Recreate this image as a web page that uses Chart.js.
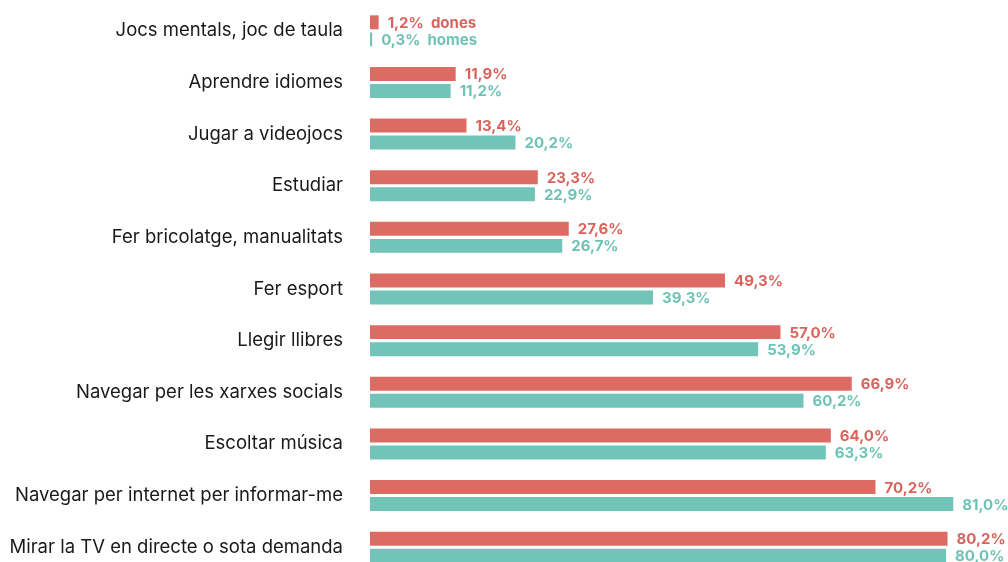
<!DOCTYPE html>
<html>
<head>
<meta charset="utf-8">
<script src="https://cdn.jsdelivr.net/npm/chart.js@4"></script>
<style>
  html, body { margin: 0; padding: 0; background: #fff; overflow: hidden; }
  #wrap { position: relative; width: 1008px; height: 573px; }
</style>
</head>
<body>
<div id="wrap"><canvas id="chart"></canvas></div>
<script>
// Categories and values (percent)
const categories = [
    'Jocs mentals, joc de taula',
    'Aprendre idiomes',
    'Jugar a videojocs',
    'Estudiar',
    'Fer bricolatge, manualitats',
    'Fer esport',
    'Llegir llibres',
    'Navegar per les xarxes socials',
    'Escoltar música',
    'Navegar per internet per informar-me',
    'Mirar la TV en directe o sota demanda'
];
const dones = [1.2, 11.9, 13.4, 23.3, 27.6, 49.3, 57.0, 66.9, 64.0, 70.2, 80.2];
const homes = [0.3, 11.2, 20.2, 22.9, 26.7, 39.3, 53.9, 60.2, 63.3, 81.0, 80.0];
const seriesNames = ['dones', 'homes'];

const RED = '#dc6b63';
const TEAL = '#72c4b8';

// etiquetes de valor al final de cada barra
const valueLabels = {
    id: 'valueLabels',
    afterDatasetsDraw(chart) {
        const ctx = chart.ctx;
        ctx.save();
        ctx.font = '700 15px Inter, "Noto Sans", sans-serif';
        ctx.textBaseline = 'middle';
        ctx.textAlign = 'left';
        chart.data.datasets.forEach((ds, di) => {
            const meta = chart.getDatasetMeta(di);
            ctx.fillStyle = ds.labelColor;
            meta.data.forEach((bar, i) => {
                let txt = ds.data[i].toFixed(1).replace('.', ',') + '%';
                if (i === 0) txt += '  ' + seriesNames[di];
                ctx.fillText(txt, bar.x + 9, bar.y + 1);
            });
        });
        ctx.restore();
    }
};

new Chart(document.getElementById('chart'), {
    type: 'bar',
    data: {
        labels: categories,
        datasets: [
            { label: seriesNames[0], data: dones, backgroundColor: RED, labelColor: '#d9645c' },
            { label: seriesNames[1], data: homes, backgroundColor: TEAL, labelColor: '#6fc3b6' }
        ]
    },
    options: {
        indexAxis: 'y',
        responsive: true,
        maintainAspectRatio: false,
        animation: false,
        categoryPercentage: 0.66,
        barPercentage: 0.82,
        layout: { padding: { top: 5, left: 0, right: 0, bottom: 0 } },
        plugins: {
            legend: { display: false },
            tooltip: { enabled: false }
        },
        scales: {
            x: {
                display: false,
                min: 0,
                max: 88.6
            },
            y: {
                grid: { display: false, drawTicks: false },
                border: { display: false },
                ticks: {
                    color: '#1a1a1a',
                    padding: 27,
                    font: { family: 'Inter, "Noto Sans", sans-serif', size: 18.5 }
                },
                afterFit(scale) {
                    scale.width = 370;
                    scale.paddingTop = 0;
                    scale.paddingBottom = 0;
                }
            }
        }
    },
    plugins: [valueLabels]
});
</script>
</body>
</html>
